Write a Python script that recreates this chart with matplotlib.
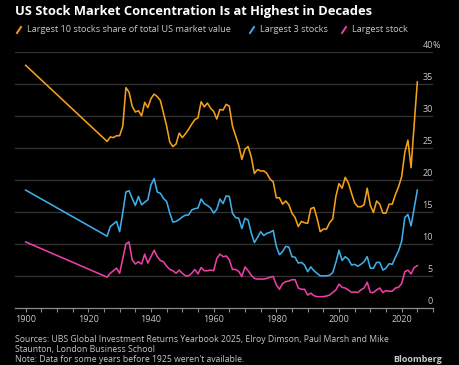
import matplotlib
matplotlib.use("Agg")
import matplotlib.pyplot as plt
from matplotlib.lines import Line2D
from matplotlib.ticker import MultipleLocator

plt.rcParams["font.family"] = ["Open Sans", "DejaVu Sans"]

# Years with data (nothing between 1900 and 1926)
years = [1900] + list(range(1926, 2026))

top10 = [
    38.0,
    26.1, 26.8, 26.7, 27.0, 27.0, 28.5, 34.5, 33.8, 31.6, 30.7,   # 1926-1935
    30.9, 30.1, 32.2, 31.4, 32.8, 33.5, 33.1, 32.5, 30.5, 28.5,   # 1936-1945
    26.0, 25.3, 25.7, 27.4, 26.7, 27.3, 28.0, 28.8, 29.5, 29.8,   # 1946-1955
    32.3, 31.5, 32.1, 31.3, 30.8, 29.6, 31.1, 31.0, 31.9, 31.6,   # 1956-1965
    28.5, 27.0, 25.5, 23.3, 24.9, 25.3, 23.7, 21.1, 21.7, 21.5,   # 1966-1975
    21.5, 21.1, 20.2, 19.8, 17.3, 17.3, 16.3, 16.8, 16.2, 14.9,   # 1976-1985
    14.2, 12.8, 13.6, 13.4, 13.3, 15.6, 15.8, 14.1, 12.0, 12.4,   # 1986-1995
    12.4, 13.4, 14.0, 17.5, 19.5, 18.8, 20.5, 19.6, 18.0, 16.5,   # 1996-2005
    15.9, 15.9, 16.2, 18.8, 16.1, 15.0, 16.8, 16.3, 14.9, 14.9,   # 2006-2015
    16.3, 16.3, 17.8, 19.0, 20.6, 24.4, 26.3, 22.0, 28.8, 35.4,   # 2016-2025
]

top3 = [
    18.5,
    11.3, 12.8, 13.2, 13.6, 12.0, 15.0, 18.2, 18.4, 17.2, 16.1,   # 1926-1935
    17.5, 16.2, 16.6, 17.0, 19.3, 20.3, 18.2, 18.0, 17.2, 16.7,   # 1936-1945
    14.9, 13.5, 13.6, 13.9, 14.3, 14.6, 14.6, 15.4, 15.6, 15.7,   # 1946-1955
    17.1, 16.4, 16.1, 15.7, 14.9, 15.5, 17.1, 16.4, 17.6, 17.5,   # 1956-1965
    14.9, 14.2, 14.1, 12.5, 14.1, 13.8, 11.8, 10.3, 11.1, 12.0,   # 1966-1975
    11.4, 11.75, 11.9, 12.2, 9.7, 8.4, 8.9, 9.7, 9.6, 8.1,        # 1976-1985
    8.0, 7.1, 7.2, 6.8, 5.75, 6.5, 5.9, 5.5, 5.1, 5.1,            # 1986-1995
    5.1, 5.2, 5.6, 7.2, 9.1, 7.5, 8.1, 7.7, 6.8, 6.9,             # 1996-2005
    6.6, 6.9, 7.3, 8.1, 6.3, 6.3, 7.2, 7.2, 6.0, 6.3,             # 2006-2015
    7.0, 6.9, 8.0, 9.0, 10.5, 14.2, 14.7, 12.9, 15.7, 18.5,       # 2016-2025
]

top1 = [
    10.4,
    4.9, 5.5, 5.9, 6.3, 5.5, 7.8, 10.1, 10.4, 7.6, 6.95,          # 1926-1935
    7.3, 6.95, 8.5, 7.1, 8.1, 9.1, 8.1, 7.5, 7.3, 6.6,            # 1936-1945
    6.1, 5.9, 5.5, 6.0, 5.5, 5.1, 5.1, 5.5, 6.1, 5.4,             # 1946-1955
    6.4, 5.9, 5.9, 6.0, 5.9, 7.8, 8.5, 8.1, 8.2, 7.6,             # 1956-1965
    6.1, 6.1, 5.8, 5.0, 6.5, 5.9, 5.2, 4.7, 4.6, 4.6,             # 1966-1975
    4.6, 4.7, 4.9, 5.0, 3.7, 3.0, 3.9, 4.2, 4.3, 4.5,             # 1976-1985
    4.5, 3.2, 3.0, 3.0, 2.1, 2.4, 2.0, 1.85, 1.85, 1.85,          # 1986-1995
    1.95, 2.1, 2.5, 2.9, 3.8, 3.3, 3.2, 2.9, 2.5, 2.6,            # 1996-2005
    2.5, 2.9, 3.2, 4.1, 2.5, 2.5, 2.9, 3.2, 2.5, 2.8,             # 2006-2015
    2.7, 2.7, 3.2, 3.3, 3.9, 5.75, 6.0, 5.4, 6.4, 6.7,            # 2016-2025
]

series = [
    ("Largest 10 stocks share of total US market value", top10, "#f5a01a"),
    ("Largest 3 stocks", top3, "#3daee9"),
    ("Largest stock", top1, "#ec3fa6"),
]
y_ticks = [0, 5, 10, 15, 20, 25, 30, 35, 40]
x_ticks = [1900, 1920, 1940, 1960, 1980, 2000, 2020]

BG = "#000000"
TXT = "#c8c8c8"

fig = plt.figure(figsize=(4.6, 3.65), dpi=100)
fig.patch.set_facecolor(BG)
ax = fig.add_axes([0.0326, 0.1548, 0.9087, 0.7014])
ax.set_facecolor(BG)

for label, vals, color in series:
    ax.plot(years, vals, color=color, lw=1.15, solid_joinstyle="round", zorder=3)

ax.set_xlim(1896.6, 2030)
ax.set_ylim(0, 40)

for v in y_ticks[1:]:
    ax.axhline(v, color="#333333", lw=0.9, zorder=1)
for v in y_ticks:
    ax.annotate(str(v), xy=(1.0, v), xycoords=("axes fraction", "data"),
                xytext=(0, 2), textcoords="offset points",
                ha="right", va="bottom", fontsize=6.5, color=TXT)
ax.annotate("%", xy=(1.0, 40), xycoords=("axes fraction", "data"),
            xytext=(0, 2), textcoords="offset points",
            ha="left", va="bottom", fontsize=6.5, color=TXT)

ax.set_yticks([])
ax.set_xticks(x_ticks)
ax.xaxis.set_minor_locator(MultipleLocator(5))
ax.tick_params(axis="x", which="both", colors="#8a8a8a", length=3, width=0.8,
               labelcolor=TXT, labelsize=6.5, pad=2)
for s in ["top", "left", "right"]:
    ax.spines[s].set_visible(False)
ax.spines["bottom"].set_color("#8a8a8a")
ax.spines["bottom"].set_linewidth(0.9)

fig.text(15 / 460, 1 - 11 / 365, "US Stock Market Concentration Is at Highest in Decades",
         fontsize=9.3, fontweight="bold", color="white", ha="left", va="center")

# legend: short coloured slashes followed by labels
leg_x = [17, 250, 342]
for (label, vals, color), lx in zip(series, leg_x):
    fig.add_artist(Line2D([lx / 460, (lx + 4) / 460],
                          [1 - 33 / 365, 1 - 27 / 365],
                          color=color, lw=1.4, transform=fig.transFigure))
    fig.text((lx + 10) / 460, 1 - 30 / 365, label, fontsize=6.6, color=TXT,
             ha="left", va="center")

fig.text(15 / 460, 1 - 339.5 / 365,
         "Sources: UBS Global Investment Returns Yearbook 2025, Elroy Dimson, Paul Marsh and Mike",
         fontsize=6.2, color=TXT, ha="left", va="center")
fig.text(15 / 460, 1 - 349.8 / 365, "Staunton, London Business School",
         fontsize=6.2, color=TXT, ha="left", va="center")
fig.text(15 / 460, 1 - 360 / 365,
         "Note: Data for some years before 1925 weren't available.",
         fontsize=6.2, color=TXT, ha="left", va="center")
fig.text(442 / 460, 1 - 360 / 365, "Bloomberg", fontsize=6.5, fontweight="bold",
         color=TXT, ha="right", va="center")

fig.savefig("out.png", dpi=100, facecolor=BG)
